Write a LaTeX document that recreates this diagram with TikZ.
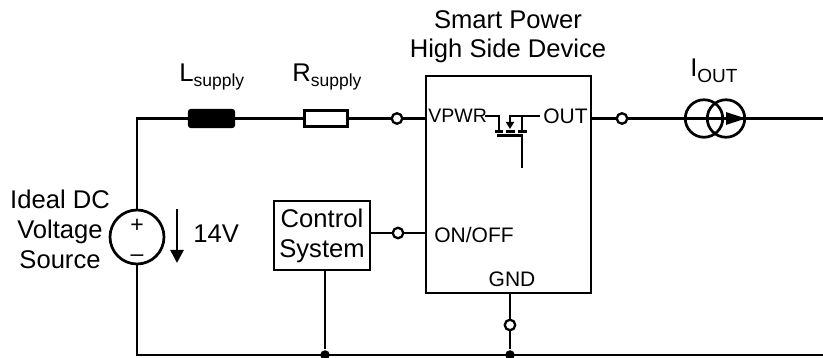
\documentclass[tikz,border=0pt]{standalone}
\usepackage{fontspec}
\setmainfont{Liberation Sans}
\usetikzlibrary{arrows.meta}
\begin{document}
\begin{tikzpicture}[x=1pt,y=-1pt, line width=2.7pt,
  term/.style={circle, draw, fill=white, minimum size=10.5pt, inner sep=0pt, line width=2.3pt},
  jdot/.style={circle, fill=black, minimum size=9.5pt, inner sep=0pt},
  lbl/.style={font=\fontsize{25.6}{30}\selectfont, inner sep=0pt},
  pin/.style={font=\fontsize{21}{24}\selectfont, inner sep=0pt},
  fet/.style={line width=2.4pt},
  ]
\useasboundingbox (0,0) rectangle (823,358);

% components
\node[circle, draw, minimum size=54pt, inner sep=0pt] (vs) at (137,237) {};
\node[draw, fill=black, rounded corners=2pt, minimum width=44.6pt, minimum height=16.6pt, inner sep=0pt] (Lind) at (211.5,118.5) {};
\node[draw, fill=white, minimum width=43.6pt, minimum height=15.6pt, inner sep=0pt] (Rres) at (326,118.5) {};
\node[term] (t1) at (397,118.5) {};
\node[draw, minimum width=165pt, minimum height=217pt, inner sep=0pt] (dev) at (508.5,184.5) {};
\node[term] (t2) at (622,118.5) {};
\coordinate (outend) at (823,118.5);
\node[draw, minimum width=96pt, minimum height=69pt, inner sep=0pt, align=center, font=\fontsize{25.6}{30}\selectfont] (ctrl) at (322,235.5) {Control\\System};
\node[term] (t3) at (398,233) {};
\node[term] (t4) at (510,325) {};
\coordinate (br) at (823,355);
\node[jdot] (d1) at (325,355) {};
\node[jdot] (d2) at (510,355) {};

% wires
\draw (vs.north) |- (Lind.west);
\draw (Lind.east) -- (Rres.west);
\draw (Rres.east) -- (t1.west);
\draw (t1.east) -- (t1.east -| dev.west);
\draw (dev.east |- t2.west) -- (t2.west);
\draw (t2.east) -- (outend);
\draw (vs.south) |- (br);
\draw (ctrl.east |- t3.west) -- (t3.west);
\draw (t3.east) -- (t3.east -| dev.west);
\draw (d1 |- ctrl.south) -- (d1);
\draw (dev.south -| t4) -- (t4.north);
\draw (t4.south) -- (d2);

% current source
\node[circle, draw, minimum size=37.5pt, inner sep=0pt] (cs1) at (704,118.5) {};
\node[circle, draw, minimum size=37.5pt, inner sep=0pt] (cs2) at (726,118.5) {};
\draw[-{Triangle[length=20pt,width=12pt]}] (cs2.center) -- (cs2.east);

% voltage arrow
\coordinate (a14s) at (177,209);
\coordinate (a14e) at (177,263);
\draw[-{Triangle[length=13pt,width=13pt]}] (a14s) -- (a14e);

% MOSFET
\draw[fet] (485,116) -- (499,116) -- (499,131.5);
\draw[fet] (495,131.5) -- (503,131.5);
\draw[fet] (506,131.5) -- (515,131.5);
\draw[fet] (518,131.5) -- (527,131.5);
\draw[fet] (497,135.5) -- (522,135.5) -- (522,168);
\draw[fet] (522,131.5) -- (522,116);
\draw[fet] (509,116) -- (540,116);
\draw[fet, -{Triangle[length=7pt,width=8pt]}] (510,116) -- (510,129);

% labels
\node[lbl, align=center, font=\fontsize{25.6}{29}\selectfont] (title) at (508,36.3) {Smart Power\\High Side Device};
\node[lbl, align=center] (vlabel) at (60,229.4) {Ideal DC\\Voltage\\Source};
\node[lbl, anchor=west] (v14) at (192,234) {14V};
\node[lbl, anchor=base west] (Llbl) at (178,82) {L\raisebox{-5pt}{\fontsize{17.5}{20}\selectfont supply}};
\node[lbl, anchor=base west] (Rlbl) at (291,82) {R\raisebox{-5pt}{\fontsize{17.5}{20}\selectfont supply}};
\node[lbl, anchor=base west] (Ilbl) at (689,77) {I\raisebox{-6pt}{\fontsize{19}{22}\selectfont OUT}};
\node[pin, anchor=west, font=\fontsize{19.5}{22}\selectfont] (pvpwr) at (427,116) {VPWR};
\node[pin, anchor=east] (pout) at (589,116) {OUT};
\node[pin, anchor=west] (ponoff) at (433,234.5) {ON/OFF};
\node[pin] (pgnd) at (512,279) {GND};
\node[inner sep=0pt, anchor=base, font=\fontsize{23}{24}\selectfont] (plus) at (137,233) {+};
\node[inner sep=0pt, anchor=base, font=\fontsize{23}{24}\selectfont] (minus) at (137,262) {–};
\end{tikzpicture}
\end{document}
